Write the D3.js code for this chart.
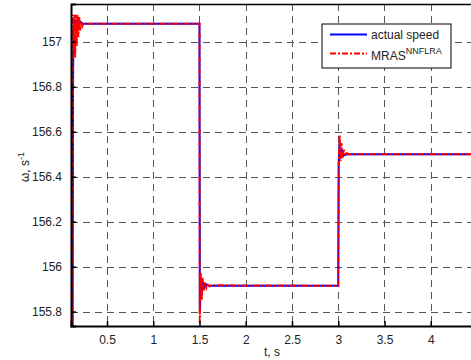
<!DOCTYPE html>
<html>
<head>
<meta charset="utf-8">
<script src="https://cdn.jsdelivr.net/npm/d3@7"></script>
<style>
  body { margin: 0; background: #fff; }
  svg { font-family: "Liberation Sans", Arial, sans-serif; }
</style>
</head>
<body>
<div id="chart"></div>
<script>
// x ticks and y ticks
const xTicks = [0.5, 1, 1.5, 2, 2.5, 3, 3.5, 4];
const yTicks = [155.8, 156, 156.2, 156.4, 156.6, 156.8, 157];

// actual speed (blue)
const actualT = [0.10, 0.128, 0.133, 0.138, 0.145, 0.16, 0.175, 0.19, 0.21, 0.24, 1.500, 1.504, 1.512, 1.522, 1.535, 1.55, 1.57, 1.60, 3.000, 3.005, 3.014, 3.025, 3.04, 3.06, 3.09, 4.6];
const actualW = [155.0, 155.7, 156.8, 157.05, 157.10, 157.05, 157.10, 157.07, 157.09, 157.08, 157.08, 155.80, 155.93, 155.88, 155.93, 155.905, 155.92, 155.915, 155.915, 156.45, 156.55, 156.48, 156.52, 156.495, 156.50, 156.50];

// MRAS NNFLRA estimate (red)
const mrasT = [0.10, 0.125, 0.132, 0.14, 0.148, 0.156, 0.164, 0.172, 0.18, 0.19, 0.20, 0.21, 0.22, 0.235, 0.25, 0.27, 1.500, 1.503, 1.515, 1.525, 1.535, 1.545, 1.56, 1.575, 1.59, 1.61, 1.63, 3.000, 3.005, 3.015, 3.025, 3.035, 3.045, 3.06, 3.075, 3.09, 3.11, 4.6];
const mrasW = [155.0, 155.7, 157.12, 156.95, 157.12, 156.93, 157.12, 156.98, 157.12, 157.02, 157.11, 157.05, 157.09, 157.07, 157.085, 157.08, 157.08, 155.75, 155.97, 155.85, 155.95, 155.89, 155.93, 155.905, 155.92, 155.912, 155.917, 155.915, 156.47, 156.585, 156.47, 156.55, 156.48, 156.52, 156.495, 156.505, 156.50, 156.50];

const width = 471, height = 360;
const margin = { top: 4, left: 71, bottom: 34 };
const plotRight = 477;

const svg = d3.select("#chart").append("svg")
  .attr("width", width)
  .attr("height", height);

const x = d3.scaleLinear().domain([0.111, 4.5]).range([margin.left, plotRight]);
const y = d3.scaleLinear().domain([155.736, 157.168]).range([height - margin.bottom, margin.top]);

svg.append("defs").append("clipPath").attr("id", "clip")
  .append("rect")
  .attr("x", margin.left).attr("y", margin.top)
  .attr("width", plotRight - margin.left)
  .attr("height", height - margin.bottom - margin.top);

// grid
const grid = svg.append("g")
  .attr("stroke", "#555")
  .attr("stroke-width", 1)
  .attr("stroke-dasharray", "7,5")
  .attr("shape-rendering", "crispEdges");

grid.selectAll(".gx").data(xTicks).enter().append("line")
  .attr("x1", d => Math.round(x(d)) + 0.5).attr("x2", d => Math.round(x(d)) + 0.5)
  .attr("y1", margin.top).attr("y2", height - margin.bottom);

grid.selectAll(".gy").data(yTicks).enter().append("line")
  .attr("y1", d => Math.round(y(d)) + 0.5).attr("y2", d => Math.round(y(d)) + 0.5)
  .attr("x1", margin.left).attr("x2", plotRight);

// lines
const line = d3.line().x(d => x(d[0])).y(d => y(d[1]));
const actual = actualT.map((t, i) => [t, actualW[i]]);
const mras = mrasT.map((t, i) => [t, mrasW[i]]);

const lines = svg.append("g").attr("clip-path", "url(#clip)");
lines.append("path")
  .datum(actual)
  .attr("fill", "none")
  .attr("stroke", "#0000ff")
  .attr("stroke-width", 2)
  .attr("d", line);
lines.append("path")
  .datum(mras)
  .attr("fill", "none")
  .attr("stroke", "#ff0000")
  .attr("stroke-width", 2)
  .attr("stroke-dasharray", "6,2,2,2")
  .attr("d", line);

// axes (ticks inside, MATLAB style)
const xAxis = d3.axisBottom(x).tickValues(xTicks).tickSize(-5).tickPadding(9)
  .tickFormat(d => String(d));
const yAxis = d3.axisLeft(y).tickValues(yTicks).tickSize(-5).tickPadding(9)
  .tickFormat(d => String(+d.toFixed(1)));

const gx = svg.append("g")
  .attr("transform", "translate(0," + (height - margin.bottom) + ")")
  .call(xAxis);
const gy = svg.append("g")
  .attr("transform", "translate(" + margin.left + ",0)")
  .call(yAxis);

[gx, gy].forEach(g => {
  g.select(".domain").attr("stroke", "#000").attr("stroke-width", 2);
  g.selectAll(".tick line").attr("stroke", "#000").attr("stroke-width", 1.5);
  g.selectAll(".tick text").attr("fill", "#222").attr("font-size", 12)
    .attr("font-family", "Liberation Sans, Arial, sans-serif");
});

// top border
svg.append("line")
  .attr("x1", margin.left).attr("x2", plotRight)
  .attr("y1", margin.top + 0.5).attr("y2", margin.top + 0.5)
  .attr("stroke", "#000").attr("stroke-width", 1.5);

// axis labels
svg.append("text")
  .attr("x", 272).attr("y", 356)
  .attr("text-anchor", "middle")
  .attr("font-size", 12).attr("fill", "#222")
  .text("t, s");

const yl = svg.append("text")
  .attr("transform", "translate(29,167) rotate(-90)")
  .attr("text-anchor", "middle")
  .attr("font-size", 12).attr("fill", "#222");
yl.append("tspan").text("ω, s");
yl.append("tspan").attr("dy", -5).attr("font-size", 9).text("-1");

// legend
const lg = svg.append("g").attr("transform", "translate(322,24)");
lg.append("rect")
  .attr("width", 129).attr("height", 44)
  .attr("fill", "#fff").attr("stroke", "#000").attr("stroke-width", 1);
lg.append("line")
  .attr("x1", 8).attr("x2", 45).attr("y1", 10.5).attr("y2", 10.5)
  .attr("stroke", "#0000ff").attr("stroke-width", 2);
lg.append("line")
  .attr("x1", 8).attr("x2", 45).attr("y1", 29.5).attr("y2", 29.5)
  .attr("stroke", "#ff0000").attr("stroke-width", 2)
  .attr("stroke-dasharray", "6,2,2,2");
lg.append("text")
  .attr("x", 49).attr("y", 15)
  .attr("font-size", 12).attr("fill", "#222")
  .text("actual speed");
const lt = lg.append("text")
  .attr("x", 49).attr("y", 36)
  .attr("font-size", 12).attr("fill", "#222");
lt.append("tspan").text("MRAS");
lt.append("tspan").attr("dy", -6).attr("font-size", 9).text("NNFLRA");
</script>
</body>
</html>
